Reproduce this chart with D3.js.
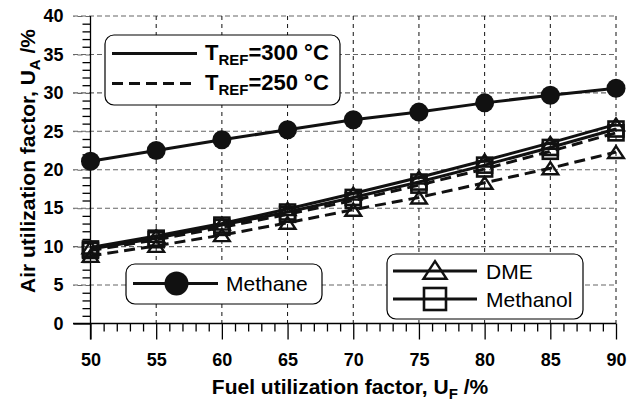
<!DOCTYPE html>
<html><head><meta charset="utf-8">
<script src="https://cdn.jsdelivr.net/npm/d3@7"></script>
<style>
html,body{margin:0;padding:0;background:#fff;}
svg{display:block;font-family:"Liberation Sans",Arial,Helvetica,sans-serif;}
</style></head>
<body><svg id="chart" width="628" height="402"></svg>
<script>
const fuelU = [50,55,60,65,70,75,80,85,90];
const methane300 = [21.1,22.5,23.9,25.2,26.5,27.5,28.7,29.7,30.6];
const dme300 = [9.9,11.4,13.0,14.9,16.9,19.0,21.2,23.5,25.9];
const methanol300 = [9.7,11.1,12.8,14.5,16.4,18.4,20.6,22.9,25.3];
const methanol250 = [9.5,10.9,12.5,14.2,16.0,18.0,20.1,22.4,24.8];
const dme250 = [8.8,10.1,11.5,13.1,14.8,16.4,18.3,20.2,22.3];
const xTicks = [50,55,60,65,70,75,80,85,90];
const yTicks = [0,5,10,15,20,25,30,35,40];

const svg = d3.select("#chart");
const x = d3.scaleLinear().domain([50,90]).range([90.5,616]);
const y = d3.scaleLinear().domain([0,40]).range([323.5,16]);

// grid
const g = svg.append("g");
yTicks.filter(v=>v>0).forEach(v=>{
  g.append("line").attr("x1",73).attr("x2",x(90)).attr("y1",y(v)).attr("y2",y(v))
   .attr("stroke","#666").attr("stroke-width",1.1).attr("stroke-dasharray","5,3");
});
xTicks.filter(v=>v>50).forEach(v=>{
  g.append("line").attr("x1",x(v)).attr("x2",x(v)).attr("y1",y(40)).attr("y2",y(0))
   .attr("stroke","#111").attr("stroke-width",1).attr("stroke-dasharray","4,4");
});

// axes
const xAxis = d3.axisBottom(x).tickValues(xTicks).tickSize(16).tickFormat(d3.format("d"));
const xMinor = d3.axisBottom(x).tickValues(d3.range(50,91,1).filter(v=>v%5)).tickSize(8).tickFormat("");
const yAxis = d3.axisLeft(y).tickValues(yTicks).tickSize(17).tickFormat(d3.format("d"));
const yMinor = d3.axisLeft(y).tickValues(d3.range(0,41,1).filter(v=>v%5)).tickSize(8).tickFormat("");

function styleAxis(sel){
  sel.select(".domain").remove();
  sel.selectAll("line").attr("stroke","#000").attr("stroke-width",1.3);
  sel.selectAll("text").attr("fill","#000").style("font-size","18px").style("font-weight","bold")
    .style("font-family","'Liberation Sans',Arial,sans-serif");
}
const gxm = svg.append("g").attr("transform",`translate(0,${y(0)})`).call(xMinor); styleAxis(gxm);
const gx = svg.append("g").attr("transform",`translate(0,${y(0)})`).call(xAxis); styleAxis(gx);
gx.selectAll("text").attr("dy","0").attr("y",42);
const gym = svg.append("g").attr("transform",`translate(${x(50)},0)`).call(yMinor); styleAxis(gym);
const gy = svg.append("g").attr("transform",`translate(${x(50)},0)`).call(yAxis); styleAxis(gy);
gy.selectAll("line").filter(d=>d>0).attr("stroke","#666").attr("stroke-dasharray","5,3").attr("stroke-width",1.1);
gy.selectAll("text").attr("x",-27);
// axis lines
svg.append("line").attr("x1",73).attr("x2",x(90)).attr("y1",y(0)).attr("y2",y(0)).attr("stroke","#000").attr("stroke-width",1.3);
svg.append("line").attr("x1",x(50)).attr("x2",x(50)).attr("y1",y(40)).attr("y2",y(0)+16).attr("stroke","#000").attr("stroke-width",1.3);

// series
const line = d3.line().x((d,i)=>x(fuelU[i])).y(d=>y(d));
const series = [
  {vals:dme250, dash:"11,6", marker:"tri"},
  {vals:methanol250, dash:"11,6", marker:"sq"},
  {vals:methanol300, dash:null, marker:"sq"},
  {vals:dme300, dash:null, marker:"tri"},
  {vals:methane300, dash:null, marker:"circ"}
];
series.forEach(s=>{
  svg.append("path").attr("d",line(s.vals)).attr("fill","none").attr("stroke","#111")
    .attr("stroke-width",3).attr("stroke-dasharray",s.dash);
});
function marker(sel, type, cx, cy, size){
  if(type==="circ"){
    sel.append("circle").attr("cx",cx).attr("cy",cy).attr("r",size).attr("fill","#111");
  } else if(type==="sq"){
    sel.append("rect").attr("x",cx-size).attr("y",cy-size).attr("width",2*size).attr("height",2*size)
      .attr("fill","none").attr("stroke","#111").attr("stroke-width",2.6);
  } else {
    const h=size*1.6, w=size*2.1;
    sel.append("path").attr("d",`M${cx},${cy-h/2}L${cx+w/2},${cy+h/2}L${cx-w/2},${cy+h/2}Z`)
      .attr("fill","none").attr("stroke","#111").attr("stroke-width",2.4).attr("stroke-linejoin","miter");
  }
}
series.forEach(s=>{
  const gm = svg.append("g");
  s.vals.forEach((v,i)=>{
    const sz = s.marker==="circ"?9.5:(s.marker==="sq"?7.5:7.5);
    marker(gm, s.marker, x(fuelU[i]), y(v), sz);
  });
});

// axis titles
const xt = svg.append("text").attr("x",350).attr("y",394).attr("text-anchor","middle")
  .style("font-size","21px").style("font-weight","bold").attr("fill","#000");
xt.append("tspan").text("Fuel utilization factor, U");
xt.append("tspan").text("F").attr("dy",5).style("font-size","15px");
xt.append("tspan").text(" /%").attr("dy",-5);
const yt = svg.append("text").attr("transform","translate(35,161) rotate(-90)").attr("text-anchor","middle")
  .style("font-size","21px").style("font-weight","bold").attr("fill","#000");
yt.append("tspan").text("Air utilization factor, U");
yt.append("tspan").text("A").attr("dy",5).style("font-size","15px");
yt.append("tspan").text(" /%").attr("dy",-5);

// legend 1: temperature
svg.append("rect").attr("x",105).attr("y",35).attr("width",235).attr("height",70).attr("rx",9)
  .attr("fill","#fff").attr("stroke","#000").attr("stroke-width",1.2);
[[53.5,null,"300"],[83.5,"11,6","250"]].forEach(([ly,dash,t])=>{
  svg.append("line").attr("x1",112).attr("x2",197).attr("y1",ly).attr("y2",ly)
    .attr("stroke","#111").attr("stroke-width",3).attr("stroke-dasharray",dash);
  const tx = svg.append("text").attr("x",205).attr("y",ly+6.5).style("font-size","22px")
    .style("font-weight","bold").attr("fill","#000");
  tx.append("tspan").text("T");
  tx.append("tspan").text("REF").attr("dy",5).style("font-size","15px");
  tx.append("tspan").text(`=${t} °C`).attr("dy",-5);
});

// legend 2: methane
svg.append("rect").attr("x",126).attr("y",264).attr("width",196).attr("height",40).attr("rx",9)
  .attr("fill","#fff").attr("stroke","#000").attr("stroke-width",1.2);
svg.append("line").attr("x1",133).attr("x2",218).attr("y1",283.5).attr("y2",283.5).attr("stroke","#111").attr("stroke-width",3);
marker(svg,"circ",176.5,283.5,12);
svg.append("text").attr("x",226).attr("y",291).text("Methane").style("font-size","21px").attr("fill","#000");

// legend 3: DME / Methanol
svg.append("rect").attr("x",387).attr("y",254).attr("width",196).attr("height",65).attr("rx",9)
  .attr("fill","#fff").attr("stroke","#000").attr("stroke-width",1.2);
[[271,"tri","DME"],[299,"sq","Methanol"]].forEach(([ly,m,t])=>{
  svg.append("line").attr("x1",393).attr("x2",477).attr("y1",ly).attr("y2",ly).attr("stroke","#111").attr("stroke-width",3);
  marker(svg,m,435,ly-(m==="tri"?1:0),m==="tri"?11:11);
  svg.append("text").attr("x",486).attr("y",ly+7.5).text(t).style("font-size","21px").attr("fill","#000");
});
</script></body></html>
